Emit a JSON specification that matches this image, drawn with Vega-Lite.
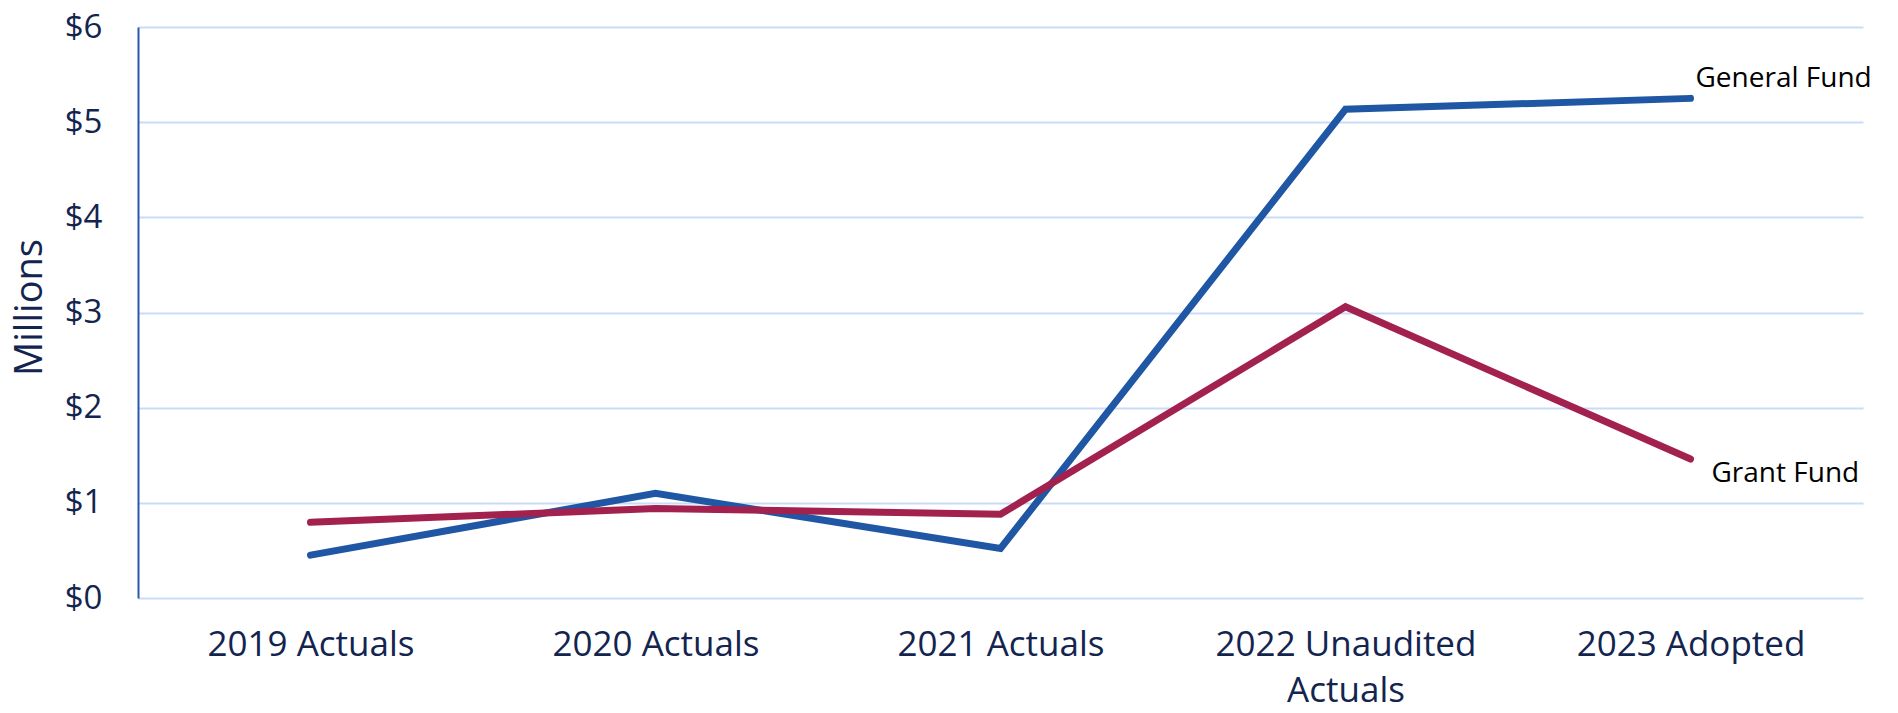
{
  "$schema": "https://vega.github.io/schema/vega-lite/v6.json",
  "autosize": {"type": "none"},
  "width": 1725,
  "height": 571,
  "padding": {"left": 138, "top": 27, "right": 35, "bottom": 115},
  "background": "white",
  "config": {
    "view": {"stroke": null},
    "font": "Open Sans"
  },
  "data": {
    "values": [
      {"year": "2019 Actuals", "fund": "General Fund", "value": 0.45},
      {"year": "2020 Actuals", "fund": "General Fund", "value": 1.10},
      {"year": "2021 Actuals", "fund": "General Fund", "value": 0.52},
      {"year": "2022 Unaudited Actuals", "fund": "General Fund", "value": 5.135},
      {"year": "2023 Adopted", "fund": "General Fund", "value": 5.25},
      {"year": "2019 Actuals", "fund": "Grant Fund", "value": 0.795},
      {"year": "2020 Actuals", "fund": "Grant Fund", "value": 0.94},
      {"year": "2021 Actuals", "fund": "Grant Fund", "value": 0.88},
      {"year": "2022 Unaudited Actuals", "fund": "Grant Fund", "value": 3.06},
      {"year": "2023 Adopted", "fund": "Grant Fund", "value": 1.46}
    ]
  },
  "encoding": {
    "x": {
      "field": "year",
      "type": "ordinal",
      "sort": null,
      "scale": {"type": "point", "padding": 0.5},
      "axis": {
        "title": null,
        "domain": false,
        "ticks": false,
        "grid": false,
        "labelAngle": 0,
        "labelFontSize": 35,
        "labelColor": "#13254f",
        "labelPadding": 29,
        "labelLimit": 0,
        "labelLineHeight": 46,
        "labelBaseline": "top",
        "labelExpr": "datum.value == '2022 Unaudited Actuals' ? ['2022 Unaudited', 'Actuals'] : datum.value"
      }
    },
    "y": {
      "field": "value",
      "type": "quantitative",
      "scale": {"domain": [0, 6], "nice": false},
      "axis": {
        "title": "Millions",
        "titleFontSize": 38,
        "titleFontWeight": "normal",
        "titleColor": "#13254f",
        "titleX": -108,
        "titleY": 280,
        "titleAlign": "center",
        "titleBaseline": "middle",
        "titleAngle": -90,
        "values": [0, 1, 2, 3, 4, 5, 6],
        "labelExpr": "'$' + datum.value",
        "labelFontSize": 33,
        "labelColor": "#13254f",
        "labelPadding": 36,
        "ticks": false,
        "domain": true,
        "domainColor": "#2b5aa8",
        "domainWidth": 2,
        "grid": true,
        "gridColor": "#c9dbf7",
        "gridWidth": 2
      }
    }
  },
  "layer": [
    {
      "mark": {"type": "line", "strokeWidth": 7, "strokeCap": "round", "strokeJoin": "miter"},
      "encoding": {
        "color": {
          "field": "fund",
          "type": "nominal",
          "scale": {"domain": ["General Fund", "Grant Fund"], "range": ["#1f57a5", "#a2214e"]},
          "legend": null
        }
      }
    },
    {
      "transform": [{"filter": "datum.fund == 'General Fund' && datum.year == '2023 Adopted'"}],
      "mark": {"type": "text", "align": "left", "baseline": "middle", "dx": 5, "dy": -19, "fontSize": 28, "color": "#000000"},
      "encoding": {"text": {"field": "fund"}}
    },
    {
      "transform": [{"filter": "datum.fund == 'Grant Fund' && datum.year == '2023 Adopted'"}],
      "mark": {"type": "text", "align": "left", "baseline": "middle", "dx": 21, "dy": 15, "fontSize": 28, "color": "#000000"},
      "encoding": {"text": {"field": "fund"}}
    }
  ]
}
